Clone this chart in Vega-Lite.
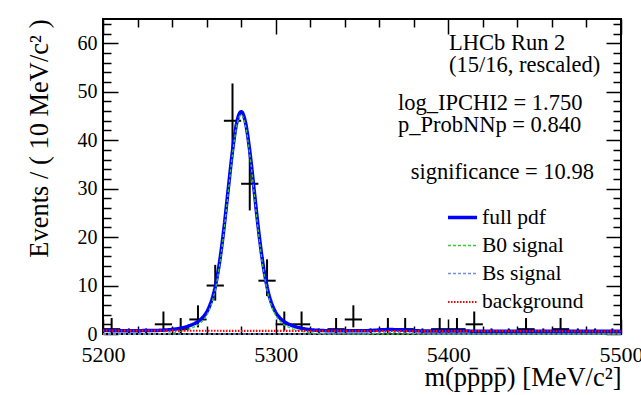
{
  "$schema": "https://vega.github.io/schema/vega-lite/v6.json",
  "width": 518,
  "height": 315,
  "autosize": {"type": "none"},
  "padding": {"left": 103, "top": 19, "right": 20, "bottom": 61},
  "background": "white",
  "config": {
    "view": {"stroke": "black", "strokeWidth": 2},
    "font": "Liberation Serif",
    "legend": {
      "orient": "none",
      "legendX": 343,
      "legendY": 182,
      "symbolType": "stroke",
      "symbolSize": 841,
      "labelFont": "Liberation Serif",
      "labelFontSize": 21.5,
      "labelColor": "black",
      "labelOffset": 3,
      "rowPadding": 2,
      "title": null
    }
  },
  "datasets": {
    "pts": [
      {"m": 5205, "x0": 5200, "x1": 5210, "n": 1, "lo": 0.17, "hi": 3.30},
      {"m": 5215, "x0": 5210, "x1": 5220, "n": 0, "lo": 0, "hi": 1.15},
      {"m": 5225, "x0": 5220, "x1": 5230, "n": 0, "lo": 0, "hi": 1.15},
      {"m": 5235, "x0": 5230, "x1": 5240, "n": 2, "lo": 0.71, "hi": 4.64},
      {"m": 5245, "x0": 5240, "x1": 5250, "n": 1, "lo": 0.17, "hi": 3.30},
      {"m": 5255, "x0": 5250, "x1": 5260, "n": 3, "lo": 1.37, "hi": 5.92},
      {"m": 5265, "x0": 5260, "x1": 5270, "n": 10, "lo": 6.89, "hi": 14.27},
      {"m": 5275, "x0": 5270, "x1": 5280, "n": 44, "lo": 37.4, "hi": 51.7},
      {"m": 5285, "x0": 5280, "x1": 5290, "n": 31, "lo": 25.5, "hi": 37.6},
      {"m": 5295, "x0": 5290, "x1": 5300, "n": 11, "lo": 7.82, "hi": 15.41},
      {"m": 5305, "x0": 5300, "x1": 5310, "n": 2, "lo": 0.71, "hi": 4.64},
      {"m": 5315, "x0": 5310, "x1": 5320, "n": 2, "lo": 0.71, "hi": 4.64},
      {"m": 5325, "x0": 5320, "x1": 5330, "n": 0, "lo": 0, "hi": 1.15},
      {"m": 5335, "x0": 5330, "x1": 5340, "n": 1, "lo": 0.17, "hi": 3.30},
      {"m": 5345, "x0": 5340, "x1": 5350, "n": 3, "lo": 1.37, "hi": 5.92},
      {"m": 5355, "x0": 5350, "x1": 5360, "n": 0, "lo": 0, "hi": 1.15},
      {"m": 5365, "x0": 5360, "x1": 5370, "n": 1, "lo": 0.17, "hi": 3.30},
      {"m": 5375, "x0": 5370, "x1": 5380, "n": 1, "lo": 0.17, "hi": 3.30},
      {"m": 5385, "x0": 5380, "x1": 5390, "n": 0, "lo": 0, "hi": 1.15},
      {"m": 5395, "x0": 5390, "x1": 5400, "n": 1, "lo": 0.17, "hi": 3.30},
      {"m": 5405, "x0": 5400, "x1": 5410, "n": 1, "lo": 0.17, "hi": 3.30},
      {"m": 5415, "x0": 5410, "x1": 5420, "n": 2, "lo": 0.71, "hi": 4.64},
      {"m": 5425, "x0": 5420, "x1": 5430, "n": 0, "lo": 0, "hi": 1.15},
      {"m": 5435, "x0": 5430, "x1": 5440, "n": 0, "lo": 0, "hi": 1.15},
      {"m": 5445, "x0": 5440, "x1": 5450, "n": 1, "lo": 0.17, "hi": 3.30},
      {"m": 5455, "x0": 5450, "x1": 5460, "n": 0, "lo": 0, "hi": 1.15},
      {"m": 5465, "x0": 5460, "x1": 5470, "n": 1, "lo": 0.17, "hi": 3.30},
      {"m": 5475, "x0": 5470, "x1": 5480, "n": 0, "lo": 0, "hi": 1.15},
      {"m": 5485, "x0": 5480, "x1": 5490, "n": 0, "lo": 0, "hi": 1.15},
      {"m": 5495, "x0": 5490, "x1": 5500, "n": 0, "lo": 0, "hi": 1.15}
    ],
    "curve": [
      {"m": 5200, "full pdf": 0.700, "B0 signal": 0, "Bs signal": 0, "background": 0.700},
      {"m": 5210, "full pdf": 0.695, "B0 signal": 0, "Bs signal": 0, "background": 0.695},
      {"m": 5220, "full pdf": 0.695, "B0 signal": 0.005, "Bs signal": 0, "background": 0.690},
      {"m": 5230, "full pdf": 0.729, "B0 signal": 0.044, "Bs signal": 0, "background": 0.685},
      {"m": 5235, "full pdf": 0.796, "B0 signal": 0.113, "Bs signal": 0, "background": 0.683},
      {"m": 5240, "full pdf": 0.936, "B0 signal": 0.256, "Bs signal": 0, "background": 0.680},
      {"m": 5245, "full pdf": 1.219, "B0 signal": 0.541, "Bs signal": 0, "background": 0.678},
      {"m": 5250, "full pdf": 1.707, "B0 signal": 1.032, "Bs signal": 0, "background": 0.675},
      {"m": 5252.5, "full pdf": 2.070, "B0 signal": 1.396, "Bs signal": 0, "background": 0.674},
      {"m": 5255, "full pdf": 2.560, "B0 signal": 1.887, "Bs signal": 0, "background": 0.673},
      {"m": 5257.5, "full pdf": 3.305, "B0 signal": 2.634, "Bs signal": 0, "background": 0.671},
      {"m": 5260, "full pdf": 4.494, "B0 signal": 3.824, "Bs signal": 0, "background": 0.670},
      {"m": 5262.5, "full pdf": 6.498, "B0 signal": 5.829, "Bs signal": 0, "background": 0.669},
      {"m": 5265, "full pdf": 9.790, "B0 signal": 9.122, "Bs signal": 0, "background": 0.668},
      {"m": 5267.5, "full pdf": 14.821, "B0 signal": 14.155, "Bs signal": 0, "background": 0.666},
      {"m": 5270, "full pdf": 21.682, "B0 signal": 21.017, "Bs signal": 0, "background": 0.665},
      {"m": 5272.5, "full pdf": 29.800, "B0 signal": 29.136, "Bs signal": 0, "background": 0.664},
      {"m": 5275, "full pdf": 37.761, "B0 signal": 37.098, "Bs signal": 0, "background": 0.663},
      {"m": 5277.5, "full pdf": 43.687, "B0 signal": 43.026, "Bs signal": 0, "background": 0.661},
      {"m": 5280, "full pdf": 45.878, "B0 signal": 45.218, "Bs signal": 0, "background": 0.660},
      {"m": 5282.5, "full pdf": 43.685, "B0 signal": 43.026, "Bs signal": 0, "background": 0.659},
      {"m": 5285, "full pdf": 37.756, "B0 signal": 37.098, "Bs signal": 0, "background": 0.658},
      {"m": 5287.5, "full pdf": 29.792, "B0 signal": 29.136, "Bs signal": 0, "background": 0.656},
      {"m": 5290, "full pdf": 21.672, "B0 signal": 21.017, "Bs signal": 0, "background": 0.655},
      {"m": 5292.5, "full pdf": 14.809, "B0 signal": 14.155, "Bs signal": 0, "background": 0.654},
      {"m": 5295, "full pdf": 9.775, "B0 signal": 9.122, "Bs signal": 0, "background": 0.653},
      {"m": 5297.5, "full pdf": 6.480, "B0 signal": 5.829, "Bs signal": 0, "background": 0.651},
      {"m": 5300, "full pdf": 4.474, "B0 signal": 3.824, "Bs signal": 0, "background": 0.650},
      {"m": 5302.5, "full pdf": 3.283, "B0 signal": 2.634, "Bs signal": 0, "background": 0.649},
      {"m": 5305, "full pdf": 2.535, "B0 signal": 1.887, "Bs signal": 0, "background": 0.648},
      {"m": 5307.5, "full pdf": 2.042, "B0 signal": 1.396, "Bs signal": 0, "background": 0.646},
      {"m": 5310, "full pdf": 1.677, "B0 signal": 1.032, "Bs signal": 0, "background": 0.645},
      {"m": 5315, "full pdf": 1.184, "B0 signal": 0.541, "Bs signal": 0, "background": 0.643},
      {"m": 5320, "full pdf": 0.896, "B0 signal": 0.256, "Bs signal": 0, "background": 0.640},
      {"m": 5325, "full pdf": 0.751, "B0 signal": 0.113, "Bs signal": 0, "background": 0.638},
      {"m": 5330, "full pdf": 0.681, "B0 signal": 0.044, "Bs signal": 0.002, "background": 0.635},
      {"m": 5340, "full pdf": 0.645, "B0 signal": 0.005, "Bs signal": 0.010, "background": 0.630},
      {"m": 5350, "full pdf": 0.656, "B0 signal": 0, "Bs signal": 0.031, "background": 0.625},
      {"m": 5355, "full pdf": 0.719, "B0 signal": 0, "Bs signal": 0.096, "background": 0.623},
      {"m": 5360, "full pdf": 0.824, "B0 signal": 0, "Bs signal": 0.204, "background": 0.620},
      {"m": 5365, "full pdf": 0.908, "B0 signal": 0, "Bs signal": 0.290, "background": 0.618},
      {"m": 5370, "full pdf": 0.895, "B0 signal": 0, "Bs signal": 0.280, "background": 0.615},
      {"m": 5375, "full pdf": 0.797, "B0 signal": 0, "Bs signal": 0.184, "background": 0.613},
      {"m": 5380, "full pdf": 0.690, "B0 signal": 0, "Bs signal": 0.080, "background": 0.610},
      {"m": 5390, "full pdf": 0.610, "B0 signal": 0, "Bs signal": 0.005, "background": 0.605},
      {"m": 5400, "full pdf": 0.600, "B0 signal": 0, "Bs signal": 0, "background": 0.600},
      {"m": 5420, "full pdf": 0.590, "B0 signal": 0, "Bs signal": 0, "background": 0.590},
      {"m": 5440, "full pdf": 0.580, "B0 signal": 0, "Bs signal": 0, "background": 0.580},
      {"m": 5460, "full pdf": 0.570, "B0 signal": 0, "Bs signal": 0, "background": 0.570},
      {"m": 5480, "full pdf": 0.560, "B0 signal": 0, "Bs signal": 0, "background": 0.560},
      {"m": 5500, "full pdf": 0.550, "B0 signal": 0, "Bs signal": 0, "background": 0.550}
    ]
  },
  "resolve": {"axis": {"x": "independent", "y": "independent"}},
  "layer": [
    {
      "data": {"name": "pts"},
      "mark": {"type": "rule", "color": "black", "strokeWidth": 2},
      "encoding": {
        "x": {
          "field": "m", "type": "quantitative",
          "scale": {"domain": [5200, 5500], "nice": false, "zero": false},
          "axis": {
            "orient": "bottom",
            "values": [5200, 5220, 5240, 5260, 5280, 5300, 5320, 5340, 5360, 5380, 5400, 5420, 5440, 5460, 5480, 5500],
            "tickSize": {"condition": {"test": "datum.value % 100 === 0", "value": -15}, "value": -8},
            "tickColor": "black", "tickWidth": 1.5,
            "labelExpr": "datum.value % 100 === 0 ? datum.label : ''",
            "format": "d",
            "labelFont": "Liberation Serif", "labelFontSize": 22, "labelColor": "black",
            "labelPadding": 25, "labelFlush": false, "labelOverlap": false,
            "domain": false, "grid": false,
            "title": "m(pp\u0304pp\u0304) [MeV/c\u00b2]",
            "titleFont": "Liberation Serif", "titleFontSize": 26.5, "titleFontWeight": "normal",
            "titleColor": "black", "titleAnchor": "end", "titlePadding": -8
          }
        },
        "y": {
          "field": "lo", "type": "quantitative",
          "scale": {"domain": [0, 65], "nice": false},
          "axis": {
            "orient": "left",
            "values": [0, 2, 4, 6, 8, 10, 12, 14, 16, 18, 20, 22, 24, 26, 28, 30, 32, 34, 36, 38, 40, 42, 44, 46, 48, 50, 52, 54, 56, 58, 60, 62, 64],
            "tickSize": {"condition": {"test": "datum.value % 10 === 0", "value": -15}, "value": -8},
            "tickColor": "black", "tickWidth": 1.5,
            "labelExpr": "datum.value % 10 === 0 ? datum.label : ''",
            "labelFont": "Liberation Serif", "labelFontSize": 20, "labelColor": "black",
            "labelPadding": 21, "labelOverlap": false, "labelFlush": false,
            "domain": false, "grid": false,
            "title": "Events / ( 10 MeV/c\u00b2 )",
            "titleFont": "Liberation Serif", "titleFontSize": 26.5, "titleFontWeight": "normal",
            "titleColor": "black", "titleAnchor": "end", "titlePadding": 24
          }
        },
        "y2": {"field": "hi"}
      }
    },
    {
      "data": {"name": "pts"},
      "mark": {"type": "rule", "color": "black", "strokeWidth": 2},
      "encoding": {
        "x": {
          "field": "x0", "type": "quantitative",
          "axis": {
            "orient": "top",
            "values": [5200, 5220, 5240, 5260, 5280, 5300, 5320, 5340, 5360, 5380, 5400, 5420, 5440, 5460, 5480, 5500],
            "tickSize": {"condition": {"test": "datum.value % 100 === 0", "value": -15}, "value": -8},
            "tickColor": "black", "tickWidth": 1.5,
            "labels": false, "domain": false, "grid": false, "title": null
          }
        },
        "x2": {"field": "x1"},
        "y": {
          "field": "n", "type": "quantitative",
          "axis": {
            "orient": "right",
            "values": [0, 2, 4, 6, 8, 10, 12, 14, 16, 18, 20, 22, 24, 26, 28, 30, 32, 34, 36, 38, 40, 42, 44, 46, 48, 50, 52, 54, 56, 58, 60, 62, 64],
            "tickSize": {"condition": {"test": "datum.value % 10 === 0", "value": -15}, "value": -8},
            "tickColor": "black", "tickWidth": 1.5,
            "labels": false, "domain": false, "grid": false, "title": null
          }
        }
      }
    },
    {
      "data": {"name": "curve"},
      "transform": [
        {"fold": ["full pdf", "B0 signal", "Bs signal", "background"], "as": ["component", "value"]},
        {"filter": "datum.component === 'full pdf'"}
      ],
      "mark": {"type": "line", "interpolate": "monotone"},
      "encoding": {
        "x": {"field": "m", "type": "quantitative", "axis": null},
        "y": {"field": "value", "type": "quantitative", "axis": null},
        "color": {"field": "component", "type": "nominal",
          "scale": {"domain": ["full pdf", "B0 signal", "Bs signal", "background"], "range": ["#0000ff", "#33cc33", "#6f8fdc", "#ff0000"]}},
        "strokeDash": {"field": "component", "type": "nominal",
          "scale": {"domain": ["full pdf", "B0 signal", "Bs signal", "background"], "range": [[1, 0], [3, 2], [3, 2], [1.5, 1.5]]}},
        "strokeWidth": {"field": "component", "type": "nominal",
          "scale": {"type": "ordinal", "domain": ["full pdf", "B0 signal", "Bs signal", "background"], "range": [3.5, 1.3, 1.3, 2.2]}}
      }
    },
    {
      "data": {"name": "curve"},
      "transform": [
        {"fold": ["full pdf", "B0 signal", "Bs signal", "background"], "as": ["component", "value"]},
        {"filter": "datum.component !== 'full pdf'"}
      ],
      "mark": {"type": "line", "interpolate": "monotone"},
      "encoding": {
        "x": {"field": "m", "type": "quantitative", "axis": null},
        "y": {"field": "value", "type": "quantitative", "axis": null},
        "color": {"field": "component", "type": "nominal",
          "scale": {"domain": ["full pdf", "B0 signal", "Bs signal", "background"], "range": ["#0000ff", "#33cc33", "#6f8fdc", "#ff0000"]}},
        "strokeDash": {"field": "component", "type": "nominal",
          "scale": {"domain": ["full pdf", "B0 signal", "Bs signal", "background"], "range": [[1, 0], [3, 2], [3, 2], [1.5, 1.5]]}},
        "strokeWidth": {"field": "component", "type": "nominal",
          "scale": {"type": "ordinal", "domain": ["full pdf", "B0 signal", "Bs signal", "background"], "range": [3.5, 1.3, 1.3, 2.2]}}
      }
    },
    {
      "data": {"values": [{}]},
      "mark": {"type": "text", "text": "LHCb Run 2", "align": "left", "baseline": "middle", "font": "Liberation Serif", "fontSize": 22.5, "color": "black"},
      "encoding": {"x": {"datum": 5400.4, "type": "quantitative", "axis": null}, "y": {"datum": 60.0, "type": "quantitative", "axis": null}}
    },
    {
      "data": {"values": [{}]},
      "mark": {"type": "text", "text": "(15/16, rescaled)", "align": "left", "baseline": "middle", "font": "Liberation Serif", "fontSize": 22.5, "color": "black"},
      "encoding": {"x": {"datum": 5400.4, "type": "quantitative", "axis": null}, "y": {"datum": 55.5, "type": "quantitative", "axis": null}}
    },
    {
      "data": {"values": [{}]},
      "mark": {"type": "text", "text": "log_IPCHI2 = 1.750", "align": "left", "baseline": "middle", "font": "Liberation Serif", "fontSize": 22.5, "color": "black"},
      "encoding": {"x": {"datum": 5370.8, "type": "quantitative", "axis": null}, "y": {"datum": 47.67, "type": "quantitative", "axis": null}}
    },
    {
      "data": {"values": [{}]},
      "mark": {"type": "text", "text": "p_ProbNNp = 0.840", "align": "left", "baseline": "middle", "font": "Liberation Serif", "fontSize": 22.5, "color": "black"},
      "encoding": {"x": {"datum": 5370.8, "type": "quantitative", "axis": null}, "y": {"datum": 43.13, "type": "quantitative", "axis": null}}
    },
    {
      "data": {"values": [{}]},
      "mark": {"type": "text", "text": "significance = 10.98", "align": "left", "baseline": "middle", "font": "Liberation Serif", "fontSize": 22.5, "color": "black"},
      "encoding": {"x": {"datum": 5378.2, "type": "quantitative", "axis": null}, "y": {"datum": 33.43, "type": "quantitative", "axis": null}}
    }
  ]
}
